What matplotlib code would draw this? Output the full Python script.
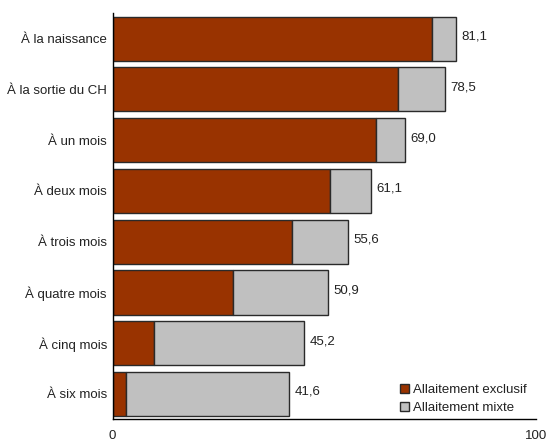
import matplotlib
matplotlib.use("Agg")
import matplotlib.pyplot as plt
import numpy as np
from matplotlib.patches import Patch

plt.rcParams['font.family'] = ['Liberation Sans', 'DejaVu Sans']
plt.rcParams['font.size'] = 9.5

categories = ["À la naissance", "À la sortie du CH", "À un mois", "À deux mois",
              "À trois mois", "À quatre mois", "À cinq mois", "À six mois"]
exclusif = [75.4, 67.3, 62.2, 51.4, 42.4, 28.5, 9.9, 3.1]
total = [81.1, 78.5, 69.0, 61.1, 55.6, 50.9, 45.2, 41.6]
mixte = [t - e for t, e in zip(total, exclusif)]
x_ticks = [0, 100]

col_excl = "#993300"
col_mixte = "#C0C0C0"
edge = "#2a2a2a"
text_col = "#222222"

fig = plt.figure(figsize=(5.51, 4.42), dpi=100)
ax = fig.add_axes([0.2042, 0.0513, 0.7686, 0.9187])

y = np.arange(len(categories))
ax.barh(y, exclusif, height=0.87, color=col_excl, edgecolor=edge, linewidth=1.0)
ax.barh(y, mixte, left=exclusif, height=0.87, color=col_mixte, edgecolor=edge, linewidth=1.0)

for yi, t in zip(y, total):
    ax.annotate(f"{t:.1f}".replace(".", ","), xy=(t, yi), xytext=(4, 1.5),
                textcoords="offset points", va="center", ha="left",
                color=text_col)

ax.set_ylim(len(categories) - 0.5, -0.5)
ax.set_xlim(0, 100)
ax.set_yticks(y)
ax.set_yticklabels(categories, color=text_col)
ax.set_xticks(x_ticks)
ax.set_xticklabels([str(v) for v in x_ticks], color=text_col)
ax.tick_params(axis="y", length=0, pad=4)
ax.tick_params(axis="x", length=0, pad=8)
for s in ["top", "right"]:
    ax.spines[s].set_visible(False)
for s in ["left", "bottom"]:
    ax.spines[s].set_color("black")
    ax.spines[s].set_linewidth(1.0)

handles = [Patch(facecolor=col_excl, edgecolor=edge, label="Allaitement exclusif"),
           Patch(facecolor=col_mixte, edgecolor=edge, label="Allaitement mixte")]
leg = ax.legend(handles=handles, loc="lower right", frameon=False,
                handlelength=0.7, handleheight=0.7, handletextpad=0.3,
                labelspacing=0.45, bbox_to_anchor=(1.0, -0.01),
                borderaxespad=0.3)
for t in leg.get_texts():
    t.set_color(text_col)

fig.savefig("out.png", dpi=100)
